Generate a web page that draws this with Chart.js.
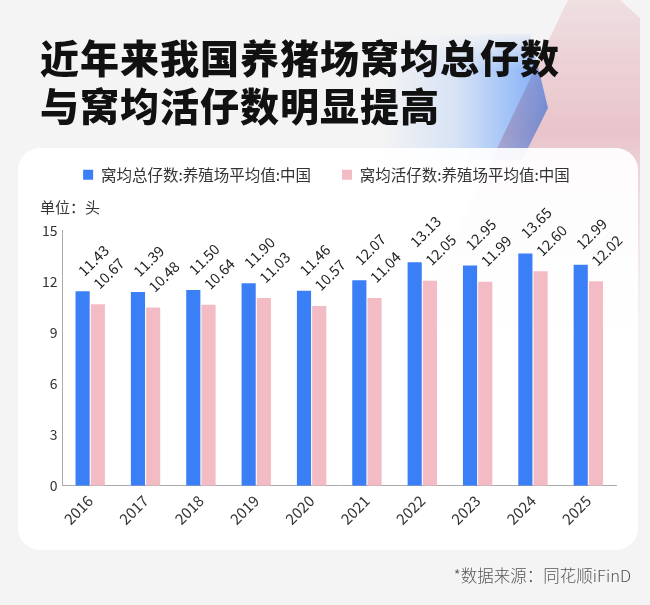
<!DOCTYPE html>
<html>
<head>
<meta charset="utf-8">
<script src="https://cdn.jsdelivr.net/npm/chart.js@4.4.1/dist/chart.umd.min.js"></script>
<style>
    body {
        margin: 0;
        width: 650px;
        height: 605px;
        background: #f4f4f4;
        position: relative;
        overflow: hidden;
        font-family: "Noto Sans CJK SC", "Noto Sans", sans-serif;
    }
    .blue {
        position: absolute;
        left: 0; top: 0; width: 650px; height: 160px;
        clip-path: polygon(380px 34px, 530px 34px, 548px 108px, 522px 160px, 380px 160px);
        background: linear-gradient(90deg, rgba(90,150,250,0) 0%, rgba(110,165,250,0.22) 45%, rgba(80,145,250,0.75) 100%);
        background-size: 170px 160px;
        background-position: 380px 0;
        background-repeat: no-repeat;
    }
    .blue-fade {
        position: absolute;
        left: 370px; top: 30px; width: 200px; height: 40px;
        background: linear-gradient(180deg, #f4f4f4 0%, rgba(244,244,244,0) 100%);
    }
    .pink {
        position: absolute;
        left: 0; top: 0; width: 650px; height: 330px;
        clip-path: polygon(568px 0, 620px 0, 640px 18px, 640px 330px, 410px 330px);
        background: linear-gradient(180deg, rgba(245,215,220,0.55) 0%, rgba(238,178,188,0.65) 40%, rgba(240,190,198,0.35) 60%, rgba(245,205,210,0) 100%);
        mix-blend-mode: multiply;
    }
    h1 {
        position: absolute;
        left: 40px; top: 32px;
        margin: 0;
        font-size: 39px;
        line-height: 48px;
        font-weight: 900;
        color: #111;
        letter-spacing: 1px;
    }
    .card {
        position: absolute;
        left: 18px; top: 148px;
        width: 620px; height: 402px;
        border-radius: 22px;
        background: rgba(255,255,255,0.92);
    }
    .unit {
        position: absolute;
        left: 40px; top: 196px;
        font-size: 15px;
        color: #333;
    }
    .source {
        position: absolute;
        right: 19px; top: 563px;
        font-size: 16.5px;
        font-weight: 300;
        color: #555;
    }
    #chart {
        position: absolute;
        left: 18px; top: 148px;
    }
</style>
</head>
<body>
<div class="blue"></div>
<div class="blue-fade"></div>
<div class="pink"></div>
<h1>近年来我国养猪场窝均总仔数<br>与窝均活仔数明显提高</h1>
<div class="card"></div>
<div class="unit">单位：头</div>
<div class="source">*数据来源：同花顺iFinD</div>
<canvas id="chart" width="620" height="402"></canvas>

<script>
const years = ['2016', '2017', '2018', '2019', '2020', '2021', '2022', '2023', '2024', '2025'];
const totalPiglets = [11.43, 11.39, 11.50, 11.90, 11.46, 12.07, 13.13, 12.95, 13.65, 12.99];
const livePiglets = [10.67, 10.48, 10.64, 11.03, 10.57, 11.04, 12.05, 11.99, 12.60, 12.02];
const seriesNames = ['窝均总仔数:养殖场平均值:中国', '窝均活仔数:养殖场平均值:中国'];
const yTicks = [0, 3, 6, 9, 12, 15];

const fontFamily = '"Noto Sans CJK SC", "Noto Sans", sans-serif';

// leave room under the legend for the unit text
const legendGap = {
    id: 'legendGap',
    beforeInit(chart) {
        const fit = chart.legend.fit;
        chart.legend.fit = function () {
            fit.call(this);
            this.height += 38;
        };
    }
};

// rotated value labels above each bar
const barLabels = {
    id: 'barLabels',
    afterDatasetsDraw(chart) {
        const ctx = chart.ctx;
        chart.data.datasets.forEach((ds, i) => {
            const meta = chart.getDatasetMeta(i);
            meta.data.forEach((bar, j) => {
                ctx.save();
                ctx.translate(bar.x - 2, bar.y - 18);
                ctx.rotate(-Math.PI / 4);
                ctx.font = '14.5px ' + fontFamily;
                ctx.fillStyle = '#222';
                ctx.textAlign = 'left';
                ctx.textBaseline = 'middle';
                ctx.fillText(ds.data[j].toFixed(2), 0, 0);
                ctx.restore();
            });
        });
    }
};

new Chart(document.getElementById('chart'), {
    type: 'bar',
    data: {
        labels: years,
        datasets: [{
            label: seriesNames[0],
            data: totalPiglets,
            backgroundColor: '#3a7ff6',
            categoryPercentage: 0.55,
            barPercentage: 0.93
        }, {
            label: seriesNames[1],
            data: livePiglets,
            backgroundColor: '#f3bcc4',
            categoryPercentage: 0.55,
            barPercentage: 0.93
        }]
    },
    options: {
        responsive: false,
        animation: false,
        layout: {
            padding: { left: 19, right: 22, top: -12, bottom: 16 }
        },
        plugins: {
            legend: {
                labels: {
                    boxWidth: 10,
                    boxHeight: 10,
                    padding: 31,
                    color: '#333',
                    font: { size: 15.5, family: fontFamily }
                }
            },
            tooltip: { enabled: false }
        },
        scales: {
            x: {
                grid: { display: false, drawTicks: false },
                border: { display: true, color: '#aaa' },
                ticks: {
                    color: '#333',
                    font: { size: 15, family: fontFamily },
                    maxRotation: 45,
                    minRotation: 45,
                    padding: 6
                }
            },
            y: {
                min: 0,
                max: 15,
                grid: { display: false, drawTicks: false },
                border: { display: true, color: '#aaa' },
                afterBuildTicks(axis) {
                    axis.ticks = yTicks.map(v => ({ value: v }));
                },
                ticks: {
                    color: '#333',
                    font: { size: 14, family: fontFamily },
                    padding: 5
                }
            }
        }
    },
    plugins: [legendGap, barLabels]
});
</script>
</body>
</html>
